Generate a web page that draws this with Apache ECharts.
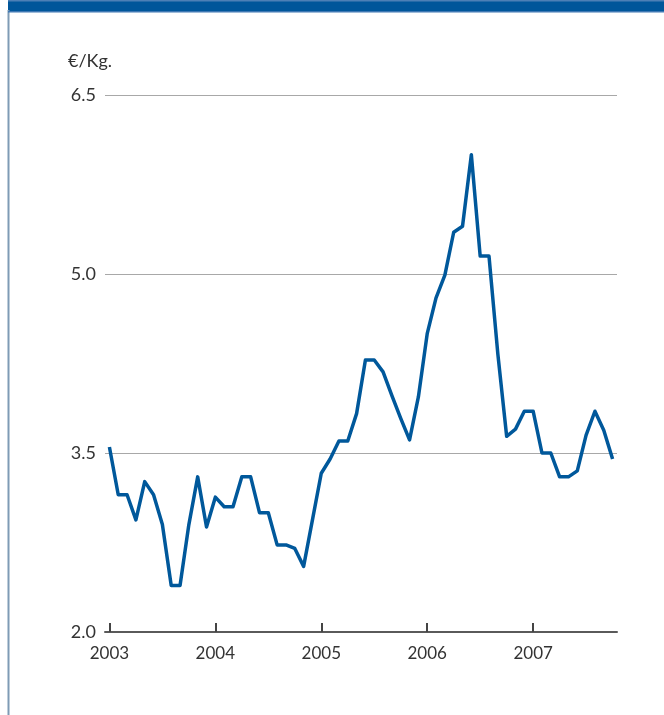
<!DOCTYPE html>
<html>
<head>
<meta charset="utf-8">
<script src="https://cdn.jsdelivr.net/npm/echarts@6/dist/echarts.min.js"></script>
<style>
html,body{margin:0;padding:0;background:#fff;}
#chart{width:664px;height:715px;}
</style>
</head>
<body>
<div id="chart"></div>
<script>
var months = [
  "2003-01","2003-02","2003-03","2003-04","2003-05","2003-06","2003-07","2003-08","2003-09","2003-10","2003-11","2003-12",
  "2004-01","2004-02","2004-03","2004-04","2004-05","2004-06","2004-07","2004-08","2004-09","2004-10","2004-11","2004-12",
  "2005-01","2005-02","2005-03","2005-04","2005-05","2005-06","2005-07","2005-08","2005-09","2005-10","2005-11","2005-12",
  "2006-01","2006-02","2006-03","2006-04","2006-05","2006-06","2006-07","2006-08","2006-09","2006-10","2006-11","2006-12",
  "2007-01","2007-02","2007-03","2007-04","2007-05","2007-06","2007-07","2007-08","2007-09","2007-10"
];
var price = [
  3.55, 3.15, 3.15, 2.94, 3.26, 3.15, 2.90, 2.39, 2.39, 2.90, 3.30, 2.88,
  3.13, 3.05, 3.05, 3.30, 3.30, 3.00, 3.00, 2.73, 2.73, 2.70, 2.55, 2.94,
  3.33, 3.45, 3.60, 3.60, 3.83, 4.28, 4.28, 4.18, 3.98, 3.79, 3.61, 3.97,
  4.50, 4.80, 4.99, 5.35, 5.40, 6.00, 5.15, 5.15, 4.33, 3.64, 3.70, 3.85,
  3.85, 3.50, 3.50, 3.30, 3.30, 3.35, 3.65, 3.85, 3.69, 3.45
];
var yTicks = [2.0, 3.5, 5.0, 6.5];
var unitLabel = "€/Kg.";

var chart = echarts.init(document.getElementById('chart'), null, {renderer: 'canvas'});
var font = 'Lato, "Open Sans", sans-serif';
chart.setOption({
  animation: false,
  backgroundColor: '#ffffff',
  grid: {left: 105, right: 47, top: 95, bottom: 83, containLabel: false},
  graphic: [
    {type: 'rect', shape: {x: 8, y: 0, width: 656, height: 12}, style: {fill: '#00569a'}, z: 10},
    {type: 'rect', shape: {x: 8, y: 0, width: 656, height: 1.5}, style: {fill: '#4d80b6'}, z: 11},
    {type: 'rect', shape: {x: 8, y: 11, width: 656, height: 1.5}, style: {fill: '#3f78b3'}, z: 11},
    {type: 'rect', shape: {x: 7.5, y: 10, width: 2, height: 705}, style: {fill: '#7f9bb5'}, z: 10},
    {type: 'text', left: 68, top: 52, style: {text: unitLabel, fontSize: 18, fontFamily: font, fill: '#333'}}
  ],
  xAxis: {
    type: 'category',
    data: months,
    boundaryGap: true,
    axisLine: {show: true, lineStyle: {color: '#5a5a5a', width: 2}},
    axisTick: {
      show: true, inside: true, length: 9, alignWithLabel: true,
      interval: function (i) { return i % 12 === 0; },
      lineStyle: {color: '#444', width: 2}
    },
    axisLabel: {
      show: true, margin: 13, fontSize: 17, fontFamily: font, color: '#333',
      interval: function (i) { return i % 12 === 0; },
      formatter: function (v) { return v.slice(0, 4); }
    },
    splitLine: {show: false}
  },
  yAxis: {
    type: 'value',
    min: yTicks[0], max: yTicks[yTicks.length - 1], interval: 1.5,
    axisLine: {show: false},
    axisTick: {show: false},
    axisLabel: {
      margin: 9, fontSize: 18, fontFamily: font, color: '#333',
      formatter: function (v) { return v.toFixed(1); }
    },
    splitLine: {show: true, lineStyle: {color: '#a8a8a8', width: 1.2}}
  },
  series: [{
    type: 'line',
    data: price,
    showSymbol: false,
    symbol: 'none',
    lineStyle: {color: '#00589b', width: 3.5, join: 'round'},
    z: 5
  }]
});
</script>
</body>
</html>
